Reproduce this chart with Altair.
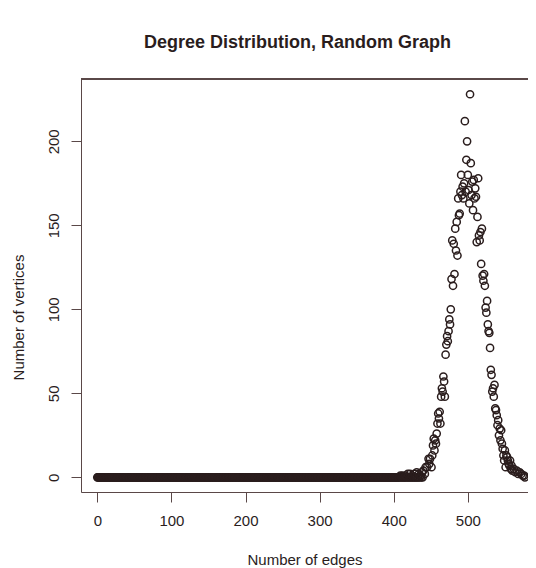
import altair as alt
import pandas as pd

# Values
flat_end = 440          # x from 0 to this value have 0 vertices (except the points below)
peak_x = [409, 412, 416, 419, 422, 425, 428, 431, 434, 436, 438, 440, 442, 443, 445, 447, 448, 449,
          451, 452, 453, 454, 455, 456, 457, 458, 459, 460, 461, 462, 463, 464, 465, 466, 467, 468,
          469, 470, 471, 472, 473, 474, 475, 476, 477, 478, 479, 480, 481, 482, 483, 484, 485, 486,
          487, 488, 489, 490, 491, 492, 493, 494, 495, 496, 497, 498, 499, 500, 501, 502, 503, 504,
          505, 506, 507, 508, 509, 510, 511, 512, 513, 514, 515, 516, 517, 518, 519, 520, 521, 522,
          523, 524, 525, 526, 527, 528, 529, 530, 531, 532, 533, 534, 535, 536, 537, 538, 539, 540,
          541, 542, 543, 544, 545, 546, 547, 548, 549, 550, 551, 552, 553, 554, 555, 556, 557, 558,
          559, 560, 562, 564, 566, 568, 570, 572, 574, 576, 577]
peak_y = [1, 1, 1, 2, 2, 1, 2, 3, 2, 1, 3, 4, 2, 6, 6, 11, 8, 11,
          6, 13, 19, 23, 16, 22, 20, 26, 32, 38, 35, 39, 32, 48, 53, 51, 60, 57,
          48, 73, 79, 84, 81, 87, 94, 91, 100, 118, 141, 114, 139, 121, 148, 135, 152, 132,
          166, 156, 157, 170, 180, 168, 173, 166, 175, 212, 170, 189, 200, 180, 171, 163, 228, 187,
          168, 176, 159, 177, 166, 172, 167, 140, 155, 178, 144, 141, 146, 127, 148, 120, 117, 121,
          114, 101, 98, 105, 91, 87, 86, 77, 64, 61, 51, 53, 48, 55, 41, 40, 37, 31,
          34, 25, 29, 22, 28, 20, 17, 13, 10, 16, 6, 13, 12, 10, 8, 7, 10, 5,
          7, 4, 5, 3, 4, 2, 3, 2, 1, 1, 0]
x_ticks = [0, 100, 200, 300, 400, 500]
y_ticks = [0, 50, 100, 150, 200]

peak_set = set(peak_x)
xs = [x for x in range(0, flat_end + 1) if x not in peak_set] + peak_x
ys = [0 for x in range(0, flat_end + 1) if x not in peak_set] + peak_y
df = pd.DataFrame({"edges": xs, "vertices": ys})

FONT = "Liberation Sans"
INK = "#2a1d1d"
LINE = "#5a4848"
W, H = 447, 413

points = alt.Chart(df).mark_point(
    shape="circle", filled=False, size=52, strokeWidth=1.5, color=INK, opacity=1
).encode(
    x=alt.X("edges:Q", scale=alt.Scale(domain=[-22, 581.2], nice=False, zero=False),
            axis=alt.Axis(values=x_ticks, title="Number of edges", grid=False,
                          tickSize=10, tickColor=LINE, domainColor=LINE,
                          labelFontSize=15, labelFont=FONT, labelColor=INK, labelPadding=11,
                          titleFontSize=15, titleFont=FONT, titleColor=INK, titleFontWeight="normal",
                          titleX=W / 2, titleY=72, titleBaseline="alphabetic", titleAlign="center")),
    y=alt.Y("vertices:Q", scale=alt.Scale(domain=[-8.75, 237.08], nice=False, zero=False),
            axis=alt.Axis(values=y_ticks, title="Number of vertices", grid=False,
                          tickSize=10, tickColor=LINE, domainColor=LINE,
                          labelFontSize=15, labelFont=FONT, labelColor=INK,
                          labelAngle=270, labelAlign="center", labelBaseline="bottom", labelPadding=10,
                          titleFontSize=15, titleFont=FONT, titleColor=INK, titleFontWeight="normal",
                          titleAngle=270, titleX=-63, titleY=238, titleBaseline="middle",
                          titleAlign="center")),
)

top_line = alt.Chart(df).mark_rule(color=LINE, strokeWidth=1).encode(
    x=alt.value(0), x2=alt.value(W), y=alt.value(0)
)

chart = alt.layer(top_line, points).properties(
    width=W, height=H,
    title=alt.TitleParams("Degree Distribution, Random Graph", font=FONT, fontSize=18,
                          fontWeight="bold", color=INK, anchor="middle", dx=-7,
                          baseline="alphabetic", offset=13),
    autosize=alt.AutoSizeParams(type="none"),
    padding={"left": 73, "top": 71, "right": 0, "bottom": 77},
).configure_view(stroke=None).configure(background="white")

chart.save("out.html", embed_options={"renderer": "svg", "actions": False})
